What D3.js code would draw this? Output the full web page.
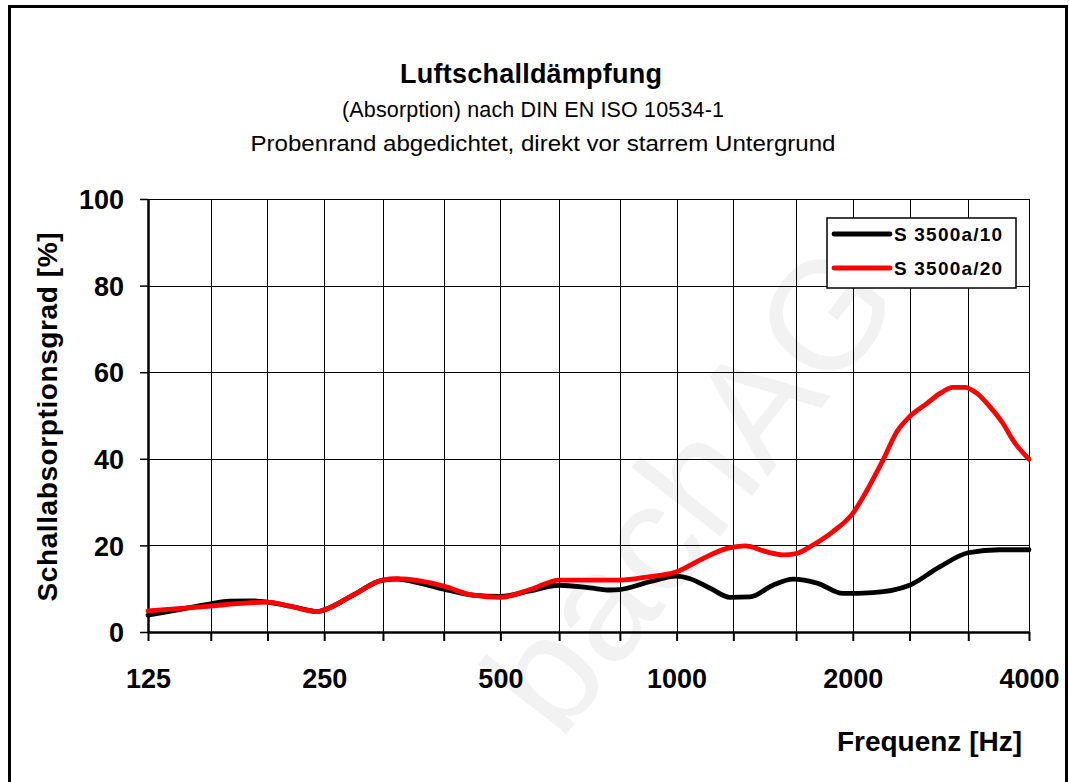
<!DOCTYPE html>
<html><head><meta charset="utf-8">
<script src="https://cdn.jsdelivr.net/npm/d3@7"></script>
<style>body{margin:0;background:#fff}svg{display:block}text{font-family:"Liberation Sans",Arial,sans-serif}</style>
</head><body>
<script>
// ---- data ----
const thirdOctaves = [125,160,200,250,315,400,500,630,800,1000,1250,1600,2000,2500,3150,4000];
const octaveLabels = [125,250,500,1000,2000,4000];
const yTicks = [0,20,40,60,80,100];

const freqA = [125,139,160,172,187,200,218,236,243,250,280,315,333,364,400,449,500,562,630,711,770,800,900,1000,1054,1141,1234,1335,1461,1581,1738,1924,2166,2500,2819,3150,3568,4000];
const valA  = [3.9,5.0,6.5,7.1,7.2,6.9,6.0,5.0,4.7,5.1,8.5,12.0,12.2,11.3,9.9,8.5,8.2,9.5,10.8,10.2,9.7,9.8,11.6,12.9,12.3,10.1,8.0,8.1,10.8,12.2,11.3,8.9,9.1,10.8,15.1,18.3,19.0,19.0];

const freqB = [125,160,180,200,218,243,250,280,315,333,364,400,449,500,562,630,740,800,890,1000,1096,1219,1309,1427,1520,1600,1710,1850,2000,2100,2252,2380,2500,2678,2819,2966,3110,3260,3431,3610,3755,4000];
const valB  = [4.9,6.0,6.6,6.9,6.0,4.7,5.1,8.5,12.0,12.3,11.8,10.6,8.5,8.0,9.8,12.0,12.0,12.0,12.7,13.9,16.6,19.3,19.9,18.5,17.8,18.1,20.1,23.2,27.4,32.0,39.7,46.3,49.7,52.8,55.1,56.5,56.5,55.1,52.0,48.2,44.3,39.9];

const seriesNames = ["S 3500a/10","S 3500a/20"];
const seriesColors = ["#000000","#ff0000"];

const title = "Luftschalldämpfung";
const sub1 = "(Absorption) nach DIN EN ISO 10534-1";
const sub2 = "Probenrand abgedichtet, direkt vor starrem Untergrund";
const yTitle = "Schallabsorptionsgrad [%]";
const xTitle = "Frequenz [Hz]";
const watermark = "bachAG";

// ---- layout ----
const W = 1069, H = 782;
const L = 148, R = 1029, T = 199, B = 632;

const svg = d3.select("body").append("svg").attr("width", W).attr("height", H);

// watermark
svg.append("text").attr("transform","translate(560,742) rotate(-52)")
  .attr("font-size",155).attr("fill","#f2f2f2").text(watermark);

// outer frame
svg.append("rect").attr("x",9.5).attr("y",6.5).attr("width",1057).attr("height",820)
  .attr("fill","none").attr("stroke","#000").attr("stroke-width",3);

const x = d3.scaleLog().domain([125,4000]).range([L,R]);
const y = d3.scaleLinear().domain([0,100]).range([B,T]);

// grid
const grid = svg.append("g");
grid.selectAll("line.v").data(thirdOctaves).join("line")
  .attr("x1",d=>Math.round(x(d))+0.5).attr("x2",d=>Math.round(x(d))+0.5)
  .attr("y1",T).attr("y2",B).attr("stroke","#000").attr("stroke-width",1);
grid.selectAll("line.h").data(yTicks).join("line")
  .attr("y1",d=>Math.round(y(d))+0.5).attr("y2",d=>Math.round(y(d))+0.5)
  .attr("x1",L).attr("x2",R).attr("stroke","#000").attr("stroke-width",1);

// axes
const xAxis = d3.axisBottom(x).tickValues(thirdOctaves).tickSize(9).tickSizeOuter(0)
  .tickFormat(d=>octaveLabels.includes(d)?String(d):"");
const gx = svg.append("g").attr("transform",`translate(0,${B})`).call(xAxis);
gx.select(".domain").attr("stroke-width",2.5);
gx.selectAll(".tick line").attr("stroke-width",2);
gx.selectAll(".tick text").attr("y",56).attr("dy",0).attr("font-size",27).attr("font-weight","bold")
  .attr("fill","#000").attr("font-family","Liberation Sans, Arial, sans-serif");

const yAxis = d3.axisLeft(y).tickValues(yTicks).tickSize(8).tickSizeOuter(0).tickPadding(16);
const gy = svg.append("g").attr("transform",`translate(${L},0)`).call(yAxis);
gy.select(".domain").attr("stroke-width",2.5);
gy.selectAll(".tick line").attr("stroke-width",1.5);
gy.selectAll(".tick text").attr("font-size",27).attr("font-weight","bold").attr("dy","0.36em")
  .attr("fill","#000").attr("font-family","Liberation Sans, Arial, sans-serif");

// lines
const line = d3.line().x(d=>x(d[0])).y(d=>y(d[1])).curve(d3.curveMonotoneX);
const dataA = freqA.map((f,i)=>[f,valA[i]]);
const dataB = freqB.map((f,i)=>[f,valB[i]]);
[dataA,dataB].forEach((d,i)=>{
  svg.append("path").datum(d).attr("d",line).attr("fill","none")
    .attr("stroke",seriesColors[i]).attr("stroke-width",4.8)
    .attr("stroke-linejoin","round").attr("stroke-linecap","round");
});

// legend
const lg = svg.append("g");
lg.append("rect").attr("x",827).attr("y",218).attr("width",189).attr("height",70)
  .attr("fill","#fff").attr("stroke","#000").attr("stroke-width",1.5);
seriesNames.forEach((n,i)=>{
  const yy = 234 + i*34;
  lg.append("line").attr("x1",834).attr("x2",890).attr("y1",yy).attr("y2",yy)
    .attr("stroke",seriesColors[i]).attr("stroke-width",4.8).attr("stroke-linecap","round");
  lg.append("text").attr("x",894).attr("y",yy+7).attr("font-size",19).attr("font-weight","bold")
    .attr("textLength",108).attr("lengthAdjust","spacing").text(n);
});

// titles
svg.append("text").attr("x",531).attr("y",83).attr("text-anchor","middle")
  .attr("font-size",27).attr("font-weight","bold").attr("textLength",262).attr("lengthAdjust","spacing").text(title);
svg.append("text").attr("x",533).attr("y",117).attr("text-anchor","middle")
  .attr("font-size",21.5).attr("textLength",382).attr("lengthAdjust","spacing").text(sub1);
svg.append("text").attr("x",543).attr("y",151).attr("text-anchor","middle")
  .attr("font-size",22).attr("textLength",585).attr("lengthAdjust","spacingAndGlyphs").text(sub2);

svg.append("text").attr("transform","translate(57,417) rotate(-90)").attr("text-anchor","middle")
  .attr("font-size",28).attr("font-weight","bold").attr("textLength",369).attr("lengthAdjust","spacing").text(yTitle);
svg.append("text").attr("x",1022).attr("y",751).attr("text-anchor","end")
  .attr("font-size",28).attr("font-weight","bold").text(xTitle);
</script>
</body></html>
